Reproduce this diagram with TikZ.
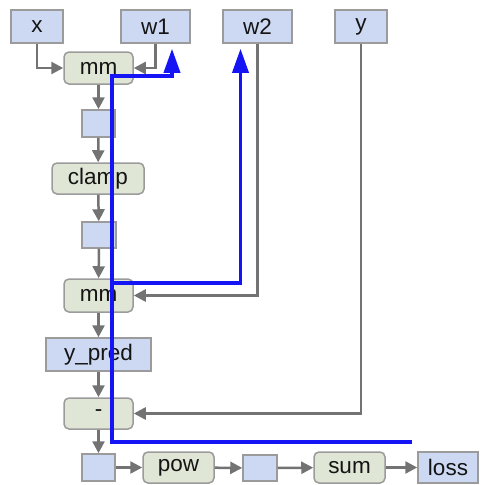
\documentclass[tikz,border=0pt]{standalone}
\usepackage{fontspec}
\setmainfont{Liberation Sans}
\usetikzlibrary{arrows.meta}
\definecolor{varfill}{RGB}{205,216,242}
\definecolor{opfill}{RGB}{223,230,213}
\definecolor{edgegray}{RGB}{115,115,115}
\definecolor{boxline}{RGB}{155,155,155}
\definecolor{gradblue}{RGB}{20,20,245}

\begin{document}
\begin{tikzpicture}[x=1pt, y=-1pt,
	every node/.style={font=\fontsize{22.5}{24}\selectfont, text=black!92, inner sep=0pt, line width=1.5pt},
	var/.style={draw=boxline, fill=varfill},
	op/.style={draw=boxline, fill=opfill, rounded corners=5pt},
	flow/.style={draw=edgegray, line width=2.5pt, -{Triangle[length=12pt,width=12pt]}},
	grad/.style={draw=gradblue, line width=3.5pt, -{Triangle[length=24pt,width=16pt]}, shorten >=5pt}]
	\useasboundingbox (0,0) rectangle (481,485);
	% tensors
	\foreach \nm/\px/\py/\w/\h/\lab in {x/37/26.5/52/33/x, w1/155.5/26.5/69/33/w1, w2/257.5/26.5/69/33/w2, y/361/26.5/52/33/y, b1/98.5/123.5/33/27/{}, b2/99/235/34/26/{}, ypred/98.5/354.5/105/33/{y\_pred}, b3/98.5/467.5/33/27/{}, b4/260/468/34/26/{}, loss/448/467.5/60/31/loss} {
		\node[var, minimum width=\w pt, minimum height=\h pt] (\nm) at (\px,\py) {\lab};
	}
	% operations
	\foreach \nm/\px/\py/\w/\h/\lab in {mm1/98.5/68/69/32/mm, clamp/98/178.5/92/31/clamp, mm2/98.5/295.5/69/33/mm, minus/98.5/413.5/69/31/-, pow/178.5/467.5/71/31/pow, sum/349.5/467.5/71/31/sum} {
		\node[op, minimum width=\w pt, minimum height=\h pt] (\nm) at (\px,\py) {\lab};
	}
	% forward edges
	\draw[flow] (x.south) |- (mm1.west);
	\draw[flow] (w1.south) |- (mm1.east);
	\draw[flow] (w2.south) |- (mm2.east);
	\draw[flow] (y.south) |- (minus.east);
	\foreach \a/\b in {mm1/b1, b1/clamp, clamp/b2, b2/mm2, mm2/ypred, ypred/minus, minus/b3}
		\draw[flow] (\a) -- (\b);
	\foreach \a/\b in {b3/pow, pow/b4, b4/sum, sum/loss}
		\draw[flow] (\a) -- (\b);
	% backward path
	\coordinate (gin) at (412,442);
	\coordinate (gsplit) at (112,283);
	\draw[grad] (gin) -| (112,76) -| ([xshift=16.5pt]w1.south);
	\draw[grad] (gsplit) -| ([xshift=-17pt]w2.south);
\end{tikzpicture}
\end{document}
